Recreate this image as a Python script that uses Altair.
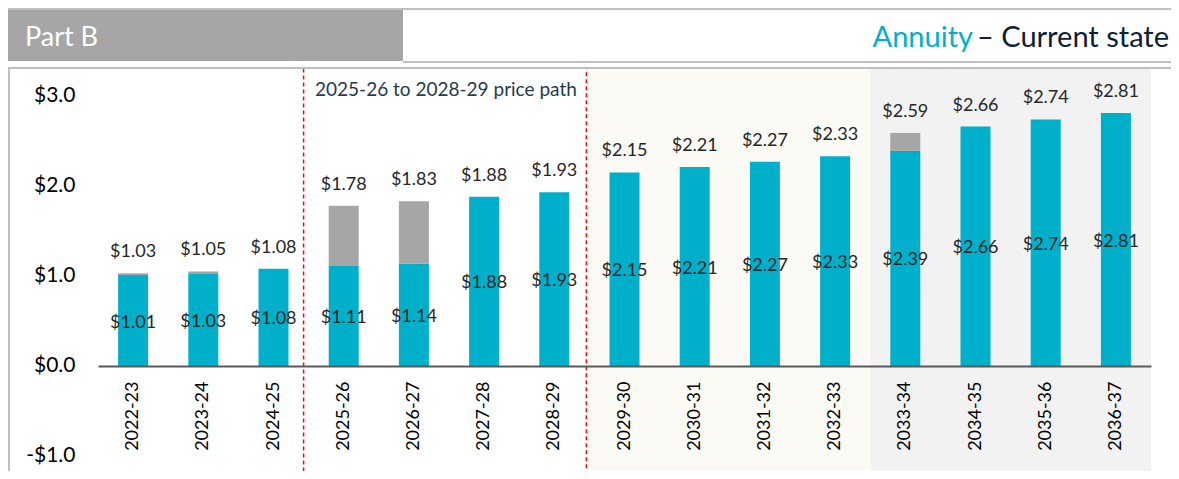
import altair as alt
import pandas as pd

cats = ["2022-23", "2023-24", "2024-25", "2025-26", "2026-27", "2027-28", "2028-29",
        "2029-30", "2030-31", "2031-32", "2032-33", "2033-34", "2034-35", "2035-36", "2036-37"]
base = [1.01, 1.03, 1.08, 1.11, 1.14, 1.88, 1.93, 2.15, 2.21, 2.27, 2.33, 2.39, 2.66, 2.74, 2.81]
total = [1.03, 1.05, 1.08, 1.78, 1.83, 1.88, 1.93, 2.15, 2.21, 2.27, 2.33, 2.59, 2.66, 2.74, 2.81]

shade_start = ["2029-30", "2033-34"]
shade_end = ["2032-33", "2036-37"]
shade_color = ["#FBFAF5", "#F2F2F2"]

TEAL = "#00B0CA"
GREY = "#A6A6A6"
NAVY = "#0B2136"
FONT = "Lato"

df = pd.DataFrame({"cat": cats, "base": base, "total": total})
df["zero"] = 0.0
df["mid"] = df["base"] / 2
shade = pd.DataFrame({"s": shade_start, "e": shade_end, "c": shade_color})
path = pd.DataFrame({"s": ["2025-26"], "e": ["2028-29"]})

W, H = 1053, 404
xscale = alt.Scale(domain=cats, paddingInner=0, paddingOuter=0)
yscale = alt.Scale(domain=[-1.1667, 3.3222], nice=False, zero=False)

X = alt.X("cat:N", scale=xscale, sort=cats, title=None,
          axis=alt.Axis(labelAngle=270, labelFontSize=18, labelColor="#000000", labelFont=FONT,
                        ticks=False, labelPadding=15, domainColor="#595959", domainWidth=2,
                        offset=-105, zindex=1))
Y = alt.Y("base:Q", scale=yscale, title=None,
          axis=alt.Axis(values=[-1, 0, 1, 2, 3], grid=False, ticks=False, domain=False,
                        labelFontSize=21, labelColor="#000000", labelFont=FONT, labelPadding=23,
                        labelExpr="datum.value < 0 ? '-$' + format(abs(datum.value), '.1f') : '$' + format(datum.value, '.1f')"))

shading = alt.Chart(shade).mark_rect().encode(
    x=alt.X("s:N", scale=xscale, sort=cats, bandPosition=0),
    x2=alt.X2("e:N", bandPosition=1),
    y=alt.value(1), y2=alt.value(H + 20),
    fill=alt.Color("c:N", scale=None),
)

dash = alt.Chart(path).mark_rect(filled=False, stroke="#FF0000", strokeWidth=1.5,
                                 strokeDash=[4, 3], xOffset=-5, x2Offset=-3).encode(
    x=alt.X("s:N", scale=xscale, sort=cats, bandPosition=0),
    x2=alt.X2("e:N", bandPosition=1),
    y=alt.value(1), y2=alt.value(H + 20),
)

grey_bars = alt.Chart(df).mark_bar(width=30, color=GREY).encode(
    x=X, y=alt.Y("total:Q", scale=yscale), y2="base:Q")
teal_bars = alt.Chart(df).mark_bar(width=30, color=TEAL).encode(
    x=X, y=Y, y2="zero:Q")

top_labels = alt.Chart(df).mark_text(fontSize=18, font=FONT, color="#262626", baseline="middle", dy=-21).encode(
    x=X, y=alt.Y("total:Q", scale=yscale), text=alt.Text("total:Q", format="$.2f"))
mid_labels = alt.Chart(df).mark_text(fontSize=18, font=FONT, color="#262626", baseline="middle", dy=2).encode(
    x=X, y=alt.Y("mid:Q", scale=yscale), text=alt.Text("base:Q", format="$.2f"))

path_text = alt.Chart(pd.DataFrame({"t": ["2025-26 to 2028-29 price path"]})).mark_text(
    fontSize=19, font=FONT, color="#243A4E", align="left", baseline="alphabetic").encode(
    x=alt.value(217), y=alt.value(29), text="t:N")

# header decorations
one = pd.DataFrame({"k": [0]})
hdr_box = alt.Chart(one).mark_rect(color=GREY).encode(
    x=alt.value(-90), x2=alt.value(305), y=alt.value(-59), y2=alt.value(-6))
line_top = alt.Chart(one).mark_rule(color="#BFBFBF", strokeWidth=2).encode(
    x=alt.value(-90), x2=alt.value(1090), y=alt.value(-58))
line_mid = alt.Chart(one).mark_rule(color="#BFBFBF", strokeWidth=2).encode(
    x=alt.value(305), x2=alt.value(1090), y=alt.value(-5))
frame_top = alt.Chart(one).mark_rule(color="#BFBFBF", strokeWidth=2).encode(
    x=alt.value(-90), x2=alt.value(1090), y=alt.value(1))
frame_left = alt.Chart(one).mark_rule(color="#BFBFBF", strokeWidth=2).encode(
    x=alt.value(-89), y=alt.value(1), y2=alt.value(H + 20))

part_b = alt.Chart(pd.DataFrame({"t": ["Part B"]})).mark_text(
    fontSize=27, font=FONT, color="#FFFFFF", align="left", baseline="alphabetic").encode(
    x=alt.value(-73), y=alt.value(-21), text="t:N")
title_a = alt.Chart(pd.DataFrame({"t": ["Annuity"]})).mark_text(
    fontSize=29, font=FONT, color=TEAL, align="right", baseline="alphabetic").encode(
    x=alt.value(875), y=alt.value(-20), text="t:N")
title_b = alt.Chart(pd.DataFrame({"t": ["– Current state"]})).mark_text(
    fontSize=29, font=FONT, color=NAVY, align="right", baseline="alphabetic").encode(
    x=alt.value(1071), y=alt.value(-20), text="t:N")

chart = alt.layer(
    shading, dash, teal_bars, grey_bars, top_labels, mid_labels, path_text,
    hdr_box, line_top, line_mid, frame_top, frame_left, part_b, title_a, title_b
).properties(
    width=W, height=H,
    background="#FFFFFF",
    autosize=alt.AutoSizeParams(type="none"),
    padding={"left": 90, "top": 59, "right": 20, "bottom": 0},
).configure_view(stroke=None, strokeWidth=0)

chart.save("out.html", embed_options={"renderer": "svg", "actions": False})
